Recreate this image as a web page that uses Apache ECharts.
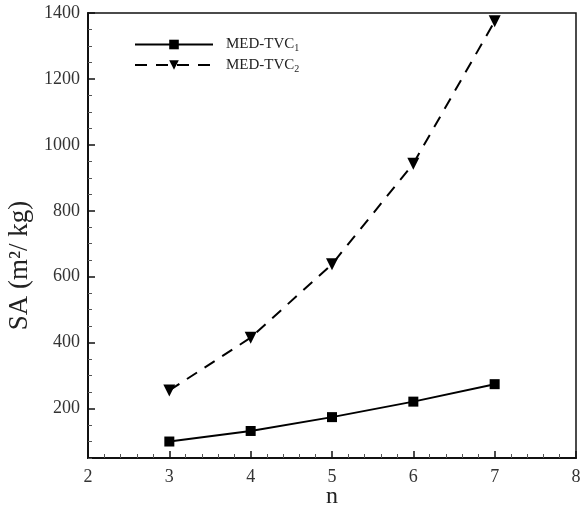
<!DOCTYPE html>
<html>
<head>
<meta charset="utf-8">
<script src="https://cdn.jsdelivr.net/npm/echarts@6/dist/echarts.min.js"></script>
<style>
  html, body { margin: 0; padding: 0; background: #fff; }
  #chart { width: 580px; height: 506px; }
</style>
</head>
<body>
<div id="chart"></div>
<script>
// 数据
var nValues = [3, 4, 5, 6, 7];
var tvc1 = [100, 132, 174, 221, 274];
var tvc2 = [255, 415, 638, 943, 1375];
var yMajorTicks = [200, 400, 600, 800, 1000, 1200, 1400];
var yMinorTicks = [50, 100, 150, 250, 300, 350, 450, 500, 550, 650, 700, 750, 850, 900, 950, 1050, 1100, 1150, 1250, 1300, 1350];

var serif = '"Liberation Serif", "Times New Roman", serif';
var chart = echarts.init(document.getElementById('chart'));

function pairs(ys) {
    return nValues.map(function (x, i) { return [x, ys[i]]; });
}

chart.setOption({
    animation: false,
    textStyle: { fontFamily: serif },
    grid: {
        left: 88, top: 13, right: 4, bottom: 48,
        outerBoundsMode: 'none',
        containLabel: false,
        show: true,
        borderColor: '#111',
        borderWidth: 1.5
    },
    legend: {
        orient: 'vertical',
        left: 129,
        top: 32,
        itemWidth: 78,
        itemHeight: 12,
        itemGap: 4,
        data: ['MED-TVC1', 'MED-TVC2'],
        formatter: function (name) {
            return '{a|MED-TVC}{s|' + name.slice(-1) + '}';
        },
        textStyle: {
            color: '#222',
            rich: {
                a: { fontFamily: serif, fontSize: 15, color: '#222', padding: [0, 0, 0, 8] },
                s: { fontFamily: serif, fontSize: 10, color: '#222', verticalAlign: 'bottom', padding: [8, 0, 0, 0] }
            }
        }
    },
    xAxis: {
        type: 'value',
        min: 2,
        max: 8,
        interval: 1,
        name: 'n',
        nameLocation: 'middle',
        nameGap: 27,
        nameMoveOverlap: false,
        nameTextStyle: { fontFamily: serif, fontSize: 24, color: '#222' },
        axisLine: { lineStyle: { color: '#111', width: 2 } },
        axisTick: { inside: true, length: 7, lineStyle: { color: '#111', width: 1.5 } },
        minorTick: { show: true, splitNumber: 5, length: 4, lineStyle: { color: '#555', width: 1 } },
        axisLabel: { fontFamily: serif, fontSize: 18, color: '#333', margin: 10 },
        splitLine: { show: false }
    },
    yAxis: [{
        type: 'value',
        min: 50,
        max: 1400,
        name: 'SA (m²/ kg)',
        nameLocation: 'middle',
        nameGap: 53,
        nameTextStyle: { fontFamily: serif, fontSize: 27, color: '#222', padding: [0, 60, 0, 0] },
        axisLine: { lineStyle: { color: '#111', width: 2 } },
        axisTick: { inside: true, length: 7, customValues: yMajorTicks, lineStyle: { color: '#111', width: 1.5 } },
        axisLabel: {
            fontFamily: serif, fontSize: 18, color: '#333', margin: 8, customValues: yMajorTicks,
            formatter: function (v) { return String(v); }
        },
        splitLine: { show: false }
    }, {
        type: 'value',
        min: 50,
        max: 1400,
        position: 'left',
        axisLine: { show: false },
        axisTick: { inside: true, length: 4, customValues: yMinorTicks, lineStyle: { color: '#555', width: 1 } },
        axisLabel: { show: false },
        splitLine: { show: false }
    }],
    series: [{
        name: 'MED-TVC1',
        type: 'line',
        data: pairs(tvc1),
        symbol: 'rect',
        symbolSize: 10,
        itemStyle: { color: '#000' },
        lineStyle: { color: '#000', width: 2 }
    }, {
        name: 'MED-TVC2',
        type: 'line',
        data: pairs(tvc2),
        symbol: 'triangle',
        symbolRotate: 180,
        symbolSize: 12,
        itemStyle: { color: '#000' },
        lineStyle: { color: '#000', width: 2, type: [12, 9] }
    }]
});
</script>
</body>
</html>
